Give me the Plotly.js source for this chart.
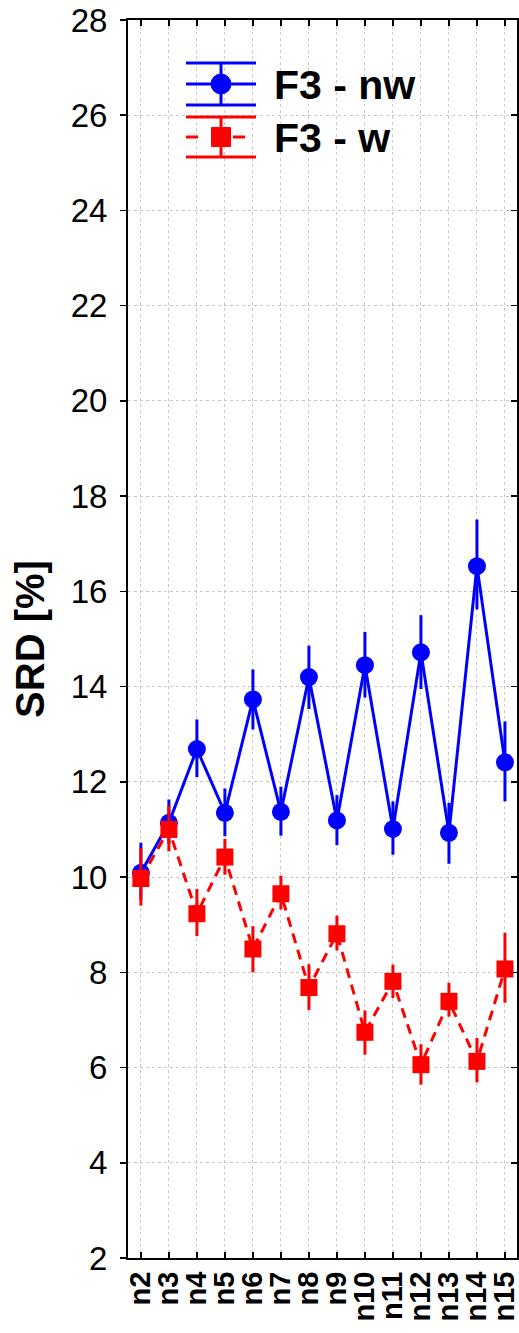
<!DOCTYPE html>
<html>
<head>
<meta charset="utf-8">
<script src="https://cdn.plot.ly/plotly-3.0.1.min.js"></script>
<style>html,body{margin:0;padding:0;background:#fff;}#chart{width:519px;height:1333px;}</style>
</head>
<body>
<div id="chart"></div>
<script>
// ---- data ----
var categories = ["n2","n3","n4","n5","n6","n7","n8","n9","n10","n11","n12","n13","n14","n15"];
var nwMean  = [10.09, 11.14, 12.69, 11.35, 13.73, 11.37, 14.20, 11.19, 14.45, 11.01, 14.72, 10.93, 16.53, 12.41];
var nwUpper = [10.72, 11.63, 13.31, 11.86, 14.36, 11.90, 14.86, 11.72, 15.15, 11.59, 15.50, 11.56, 17.51, 13.27];
var nwLower = [ 9.53, 10.70, 12.10, 10.86, 13.10, 10.87, 13.53, 10.67, 13.77, 10.47, 13.95, 10.28, 15.62, 11.59];
var wMean   = [ 9.97, 11.00,  9.23, 10.42,  8.49,  9.65,  7.68,  8.81,  6.74,  7.81,  6.06,  7.39,  6.13,  8.07];
var wUpper  = [10.61, 11.50,  9.75, 10.80,  8.97, 10.03,  8.17,  9.19,  7.20,  8.16,  6.49,  7.78,  6.62,  8.83];
var wLower  = [ 9.40, 10.54,  8.76, 10.05,  8.00,  9.32,  7.21,  8.46,  6.27,  7.46,  5.64,  7.07,  5.69,  7.36];
var yTicks  = [2, 4, 6, 8, 10, 12, 14, 16, 18, 20, 22, 24, 26, 28];
var seriesNames = ["F3 - nw", "F3 - w"];

function diff(a, b) { return a.map(function (v, i) { return Math.abs(v - b[i]); }); }
var xs = categories.map(function (c, i) { return i; });

var BLUE = "#0000ff", RED = "#ff0000";
var FONT = "Liberation Sans, Arial, sans-serif";

var traces = [
  {
    x: xs, y: nwMean, type: "scatter", mode: "lines+markers", name: seriesNames[0],
    line: {color: BLUE, width: 3},
    marker: {symbol: "circle", size: 18, color: BLUE},
    error_y: {type: "data", symmetric: false, array: diff(nwUpper, nwMean), arrayminus: diff(nwMean, nwLower),
              color: BLUE, thickness: 3, width: 0},
    showlegend: false
  },
  {
    x: xs, y: wMean, type: "scatter", mode: "lines+markers", name: seriesNames[1],
    line: {color: RED, width: 3, dash: "10px,7px"},
    marker: {symbol: "square", size: 17, color: RED},
    error_y: {type: "data", symmetric: false, array: diff(wUpper, wMean), arrayminus: diff(wMean, wLower),
              color: RED, thickness: 3, width: 0},
    showlegend: false
  },
  { x: [], y: [], yaxis: "y2", type: "scatter", showlegend: false, hoverinfo: "skip" }
];

// plot area in pixels
var L = 128, R = 517, T = 20, B = 1258, W = 519, H = 1333;
function px(x) { return (x - L) / (R - L); }
function py(y) { return (B - y) / (B - T); }

// hand-built legend (symbols with error bars)
var shapes = [];
function hline(x0, x1, y, color, dash) {
  shapes.push({type: "line", xref: "paper", yref: "paper", x0: px(x0), x1: px(x1), y0: py(y), y1: py(y),
               line: {color: color, width: 3, dash: dash || "solid"}});
}
function vline(x, y0, y1, color) {
  shapes.push({type: "line", xref: "paper", yref: "paper", x0: px(x), x1: px(x), y0: py(y0), y1: py(y1),
               line: {color: color, width: 3}});
}
// nw
hline(186, 256, 63, BLUE); hline(186, 256, 84, BLUE); hline(186, 256, 105, BLUE);
vline(221, 63, 105, BLUE);
shapes.push({type: "circle", xref: "paper", yref: "paper", x0: px(211), x1: px(231), y0: py(74), y1: py(94),
             fillcolor: BLUE, line: {color: BLUE, width: 1}});
// w
hline(186, 256, 117, RED); hline(186, 256, 157, RED);
hline(186, 198, 137, RED); hline(233, 245, 137, RED);
vline(221, 117, 157, RED);
shapes.push({type: "rect", xref: "paper", yref: "paper", x0: px(211.5), x1: px(230.5), y0: py(127.5), y1: py(146.5),
             fillcolor: RED, line: {color: RED, width: 1}});

var annotations = [
  {xref: "paper", yref: "paper", x: px(272), y: py(85), xanchor: "left", yanchor: "middle", showarrow: false,
   text: "<b>" + seriesNames[0] + "</b>", font: {family: FONT, size: 41, color: "#000"}},
  {xref: "paper", yref: "paper", x: px(272), y: py(138), xanchor: "left", yanchor: "middle", showarrow: false,
   text: "<b>" + seriesNames[1] + "</b>", font: {family: FONT, size: 41, color: "#000"}}
];

var layout = {
  width: W, height: H,
  margin: {l: L, r: W - R, t: T, b: H - B, pad: 0},
  paper_bgcolor: "#fff", plot_bgcolor: "#fff",
  font: {family: FONT, color: "#000"},
  showlegend: false,
  xaxis: {
    range: [-0.46, 13.43], tickmode: "array", tickvals: xs, ticktext: categories,
    tickangle: -90, tickfont: {family: FONT, size: 29, weight: "bold", color: "#000"},
    ticklabeloverflow: "allow",
    ticks: "inside", ticklen: 6, tickwidth: 1.5, tickcolor: "#000",
    showline: true, linecolor: "#000", linewidth: 2, mirror: "ticks",
    showgrid: true, gridcolor: "#c8c8c8", griddash: "dot", gridwidth: 1,
    zeroline: false, fixedrange: true, automargin: false
  },
  yaxis: {
    range: [2, 28], tickmode: "array", tickvals: yTicks,
    tickfont: {family: FONT, size: 33, color: "#000"},
    ticks: "outside", ticklen: 6, tickwidth: 1.5, tickcolor: "#000", ticklabelstandoff: 6,
    showline: true, linecolor: "#000", linewidth: 2, mirror: true,
    showgrid: true, gridcolor: "#c8c8c8", griddash: "dot", gridwidth: 1,
    zeroline: false, fixedrange: true, automargin: false,
    title: {text: "<b>SRD [%]</b>", font: {family: FONT, size: 40, color: "#000"}, standoff: 14}
  },
  yaxis2: {
    range: [2, 28], overlaying: "y", side: "right", tickmode: "array", tickvals: yTicks,
    showticklabels: false, ticks: "inside", ticklen: 6, tickwidth: 1.5, tickcolor: "#000",
    showline: false, showgrid: false, zeroline: false, fixedrange: true
  },
  shapes: shapes,
  annotations: annotations
};

Plotly.newPlot("chart", traces, layout, {displayModeBar: false, staticPlot: true});
</script>
</body>
</html>
